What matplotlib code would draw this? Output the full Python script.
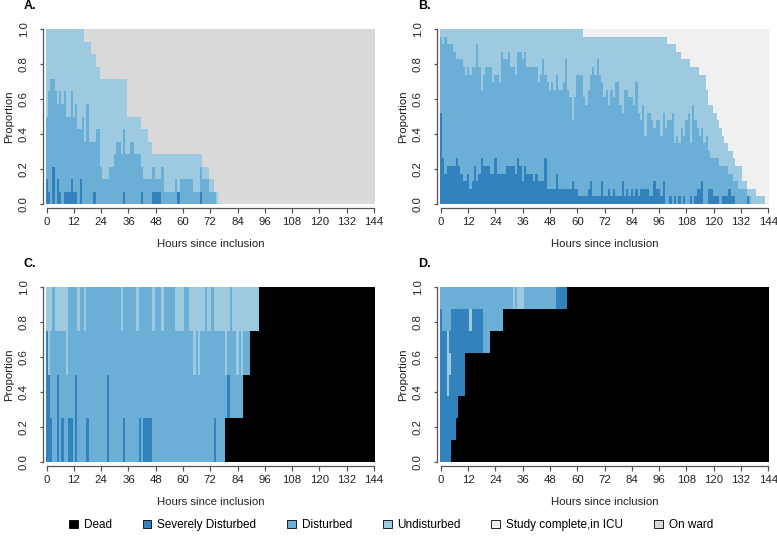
import numpy as np
import matplotlib
matplotlib.use("Agg")
import matplotlib.pyplot as plt
from matplotlib.patches import Patch

plt.rcParams['font.family'] = ['Liberation Sans', 'DejaVu Sans']

# ---------------- data ----------------
hours = np.arange(0, 145)
categories = ['Dead', 'Severely Disturbed', 'Disturbed', 'Undisturbed',
              'Study complete,in ICU', 'On ward']
colors = ['#000000', '#3182BD', '#6BAED6', '#9ECAE1', '#F0F0F0', '#D9D9D9']
x_ticks = list(range(0, 145, 12))
y_ticks = [0.0, 0.2, 0.4, 0.6, 0.8, 1.0]

# Panel A (n = 14): cumulative counts per hour (severe, severe+disturbed), breakpoints for the active total
a_n = 14
a_severe = [2, 1, 0, 3, 0, 2, 1, 0, 1, 1, 1, 2, 1, 1, 0, 2, 0, 0, 0, 0, 0, 1,
            0, 0, 0, 0, 0, 0, 0, 0, 0, 0, 0, 0, 1, 0, 0, 0, 0, 0, 0, 0, 1,
            0, 0, 0, 0, 1, 1, 1, 1, 0, 0, 0, 0, 0, 0, 0, 1,
            0, 0, 0, 0, 0, 0, 0, 0, 0, 1]
a_disturbed_top = [7, 9, 10, 10, 9, 8, 9, 8, 9, 7, 7, 9, 7, 8, 6, 6, 7, 5, 8, 5,
                   5, 5, 6, 6, 3, 2, 2, 2, 3, 3, 4, 5, 5, 4, 6, 4, 4, 5, 5, 4,
                   4, 4, 3, 2, 2, 2, 2, 3, 2, 2, 2, 3, 1, 1, 1, 1, 1, 2, 1, 2,
                   2, 2, 2, 2, 2, 1, 1, 1, 3, 2, 2, 2, 1, 1, 1]
a_active_breaks = [(0, 14), (17, 13), (20, 12), (22, 11), (24, 10), (36, 7), (42, 6),
                   (45, 5), (47, 4), (69, 3), (72, 2), (74, 1), (76, 0)]

# Panel B (n = 23)
b_n = 23
b_severe = [12, 6, 4, 5, 5, 5, 5, 6, 5, 4,
            3, 3, 4, 2, 3, 5, 3, 4, 6, 5,
            5, 5, 4, 4, 6, 4, 4, 4, 4, 5,
            5, 5, 5, 4, 6, 5, 3, 5, 4, 4,
            4, 3, 4, 3, 3, 3, 6, 2, 2, 2,
            2, 4, 2, 2, 2, 2, 2, 2, 3, 2,
            2, 1, 1, 1, 1, 2, 3, 1, 1, 1,
            1, 3, 1, 1, 2, 1, 2, 1, 1, 1,
            3, 1, 2, 1, 2, 1, 2, 1, 2, 2,
            2, 2, 1, 1, 3, 2, 2, 1, 3, 0,
            0, 1, 0, 1, 0, 1, 0, 1, 0, 0,
            1, 0, 1, 2, 2, 3, 0, 0, 2, 2,
            1, 1, 1, 0, 1, 1, 1, 2, 1, 1,
            0, 0, 0, 0, 0, 1, 0]
b_disturbed_top = [22, 21, 22, 21, 21, 21, 20, 19, 19, 19,
                   18, 17, 18, 17, 18, 18, 21, 18, 15, 17,
                   18, 18, 18, 16, 17, 17, 16, 20, 19, 19,
                   20, 18, 18, 17, 20, 20, 19, 20, 18, 18,
                   18, 18, 18, 16, 17, 19, 17, 16, 15, 16,
                   15, 17, 15, 15, 16, 19, 15, 14, 11, 14,
                   17, 17, 17, 14, 13, 15, 17, 18, 17, 19,
                   17, 16, 14, 15, 13, 15, 14, 16, 16, 13,
                   12, 15, 15, 14, 14, 13, 16, 12, 11, 13,
                   9, 12, 12, 11, 10, 11, 11, 9, 12, 10,
                   11, 11, 12, 8, 9, 8, 10, 9, 11, 12,
                   8, 13, 11, 10, 9, 10, 8, 9, 7, 6,
                   6, 6, 6, 5, 5, 5, 5, 4, 4, 3,
                   3, 2, 2, 2, 2, 1, 1]
b_active_breaks = [(0, 23), (63, 22), (100, 21), (104, 20), (106, 19), (110, 18),
                   (114, 17), (117, 15), (118, 13), (120, 12), (122, 11), (123, 10),
                   (124, 9), (125, 8), (127, 7), (129, 6), (130, 5), (133, 3),
                   (135, 2), (139, 1), (143, 0)]

# Panels C (n = 4) and D (n = 8): state of each patient band over time
# state codes: 0 dead, 1 severely disturbed, 2 disturbed, 3 undisturbed
c_bands = [
    [(0, 1), (3, 2), (5, 1), (6, 2), (7, 1), (8, 2), (10, 1), (12, 2), (13, 1), (14, 2),
     (18, 1), (19, 2), (27, 1), (28, 2), (34, 1), (35, 2), (41, 1), (42, 2), (43, 1),
     (47, 2), (74, 1), (75, 2), (79, 0)],
    [(0, 1), (2, 2), (5, 1), (6, 2), (13, 1), (14, 2), (27, 1), (28, 2), (80, 1),
     (81, 2), (87, 0)],
    [(0, 1), (1, 3), (2, 2), (9, 3), (10, 2), (65, 3), (66, 2), (67, 3), (68, 2),
     (79, 3), (80, 2), (84, 3), (85, 2), (86, 3), (87, 2), (90, 0)],
    [(0, 3), (3, 2), (4, 3), (10, 2), (14, 3), (15, 2), (17, 3), (18, 2), (33, 3),
     (34, 2), (40, 3), (41, 2), (47, 3), (48, 2), (51, 3), (52, 2), (57, 3), (61, 2),
     (63, 3), (70, 2), (71, 3), (73, 2), (74, 3), (81, 2), (82, 3), (94, 0)],
]
d_bands = [
    [(0, 1), (5, 0)],
    [(0, 1), (7, 0)],
    [(0, 1), (8, 0)],
    [(0, 1), (3, 3), (4, 1), (11, 0)],
    [(0, 1), (3, 3), (5, 1), (11, 0)],
    [(0, 1), (3, 3), (4, 1), (19, 2), (22, 0)],
    [(0, 1), (1, 2), (5, 1), (13, 3), (14, 1), (19, 2), (28, 0)],
    [(0, 2), (32, 3), (33, 2), (34, 3), (37, 2), (51, 1), (56, 0)],
]

# ---------------- helpers ----------------
edges = np.append(hours - 0.5, hours[-1] + 0.5)


def expand(breaks):
    out = np.zeros(len(hours))
    for i, (start, val) in enumerate(breaks):
        end = breaks[i + 1][0] if i + 1 < len(breaks) else len(hours)
        out[start:end] = val
    return out


def pad(lst):
    out = np.zeros(len(hours))
    out[:len(lst)] = lst
    return out


def draw_stacked(ax, n, severe, dist_top, active_breaks, top_cat):
    sev = pad(severe)
    dtop = pad(dist_top)
    act = expand(active_breaks)
    tops = [sev, dtop, act, np.full(len(hours), n)]
    cats = [1, 2, 3, top_cat]
    base = np.zeros(len(hours))
    for top, c in zip(tops, cats):
        ax.stairs(top / n, edges, baseline=base / n, fill=True,
                  color=colors[c], linewidth=0, antialiased=False)
        base = top


def draw_bands(ax, bands):
    n = len(bands)
    for b, breaks in enumerate(bands):
        st = expand(breaks)
        lo = np.full(len(hours), b / n)
        hi = np.full(len(hours), (b + 1) / n)
        for c in range(4):
            vals = np.where(st == c, hi, lo)
            ax.stairs(vals, edges, baseline=lo, fill=True, color=colors[c],
                      linewidth=0, antialiased=False)


# ---------------- figure ----------------
W, H = 777, 540
fig = plt.figure(figsize=(W / 100, H / 100), dpi=100)


def px_axes(left, top, width, height):
    return fig.add_axes([left / W, 1 - (top + height) / H, width / W, height / H])


axw = 145 * 2.273
panel_geom = {'A': (45.5, 29), 'B': (439.8, 29), 'C': (45.5, 287), 'D': (439.8, 287)}
axes = {}
for key, (l, t) in panel_geom.items():
    ax = px_axes(l, t, axw, 175)
    axes[key] = ax

draw_stacked(axes['A'], a_n, a_severe, a_disturbed_top, a_active_breaks, 5)
draw_stacked(axes['B'], b_n, b_severe, b_disturbed_top, b_active_breaks, 4)
draw_bands(axes['C'], c_bands)
draw_bands(axes['D'], d_bands)

fs = 8.2
for key, ax in axes.items():
    ax.set_xlim(-0.5, 144.5)
    ax.set_ylim(0, 1)
    for s in ['top', 'right']:
        ax.spines[s].set_visible(False)
    ax.spines['left'].set_position(('outward', 1.9))
    ax.spines['bottom'].set_position(('outward', 3.1))
    ax.spines['left'].set_bounds(0, 1)
    ax.spines['bottom'].set_bounds(0, 144)
    for s in ['left', 'bottom']:
        ax.spines[s].set_color('#555555')
        ax.spines[s].set_linewidth(0.9)
    ax.set_xticks(x_ticks)
    ax.set_xticklabels([str(v) for v in x_ticks], fontsize=fs, color='#222222')
    ax.set_yticks(y_ticks)
    ax.set_yticklabels(['%.1f' % v for v in y_ticks], fontsize=fs, color='#222222',
                       rotation=90, va='center')
    ax.tick_params(axis='x', length=3.5, width=0.9, color='#555555', pad=3)
    ax.tick_params(axis='y', length=2.2, width=0.9, color='#555555', pad=8)
    ax.set_xlabel('Hours since inclusion', fontsize=fs, color='#222222', va='center')
    ax.xaxis.set_label_coords(0.5, -0.23)
    ax.set_ylabel('Proportion', fontsize=fs, color='#222222', va='center')
    ax.yaxis.set_label_coords(-0.11, 0.5)

letters = {'A': (24, 6), 'B': (418, 6), 'C': (24, 264), 'D': (418, 264)}
for key, (x, y) in letters.items():
    fig.text(x / W, 1 - y / H, key + '.', fontsize=9, fontweight='bold',
             ha='left', va='center')

handles = [Patch(facecolor=c, edgecolor='black', linewidth=0.6) for c in colors]
fig.legend(handles, categories, loc='center', bbox_to_anchor=(391 / W, 1 - 525 / H),
           ncol=6, frameon=False, fontsize=8.5, handlelength=0.75, handleheight=0.75,
           handletextpad=0.5, columnspacing=2.6)

fig.savefig('out.png', dpi=100)
